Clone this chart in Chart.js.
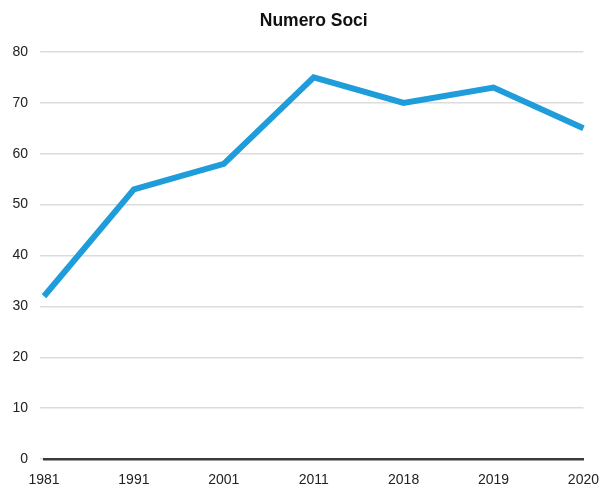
<!DOCTYPE html>
<html lang="it">
<head>
    <meta charset="UTF-8">
    <title>Numero Soci</title>
    <script src="https://cdn.jsdelivr.net/npm/chart.js"></script>
    <style>
        html, body { margin: 0; padding: 0; background: #fff; }
        .chart-container { width: 604px; height: 484px; position: relative; }
    </style>
</head>
<body>
    <div class="chart-container">
        <canvas id="sociChart"></canvas>
    </div>

    <script>
        // Data
        const years = ['1981', '1991', '2001', '2011', '2018', '2019', '2020'];
        const soci = [32, 53, 58, 75, 70, 73, 65];
        const yTicks = [0, 10, 20, 30, 40, 50, 60, 70, 80];

        const ctx = document.getElementById('sociChart').getContext('2d');

        new Chart(ctx, {
            type: 'line',
            data: {
                labels: years,
                datasets: [{
                    label: 'Numero Soci',
                    data: soci,
                    borderColor: '#1f9cda',
                    borderWidth: 6,
                    borderJoinStyle: 'miter',
                    pointRadius: 0,
                    tension: 0,
                    fill: false
                }]
            },
            options: {
                responsive: true,
                maintainAspectRatio: false,
                animation: false,
                layout: { padding: { left: 0, right: 20, top: 0, bottom: 0 } },
                plugins: {
                    legend: { display: false },
                    tooltip: { enabled: false },
                    title: {
                        display: true,
                        fullSize: false, // centre over the plot area, not the canvas
                        text: 'Numero Soci',
                        color: '#111',
                        font: { family: 'Liberation Sans', size: 17.5, weight: 'bold' },
                        padding: { top: 11, bottom: 20 }
                    }
                },
                scales: {
                    x: {
                        offset: false,
                        grid: { display: false },
                        border: { display: true, color: '#3a3a3a', width: 2.5 },
                        ticks: {
                            color: '#222',
                            font: { family: 'Liberation Sans', size: 14 },
                            padding: 5,
                            maxRotation: 0,
                            autoSkip: false
                        },
                        afterFit: scale => { scale.height = 25; }
                    },
                    y: {
                        min: 0,
                        max: 80,
                        afterBuildTicks: scale => {
                            scale.ticks = yTicks.map(v => ({ value: v }));
                        },
                        grid: { color: '#dcdcdc', lineWidth: 1.5, tickLength: 4, drawTicks: true },
                        border: { display: false },
                        ticks: {
                            color: '#222',
                            font: { family: 'Liberation Sans', size: 14 },
                            padding: 12
                        },
                        afterFit: scale => { scale.width = 44; }
                    }
                }
            }
        });
    </script>
</body>
</html>
